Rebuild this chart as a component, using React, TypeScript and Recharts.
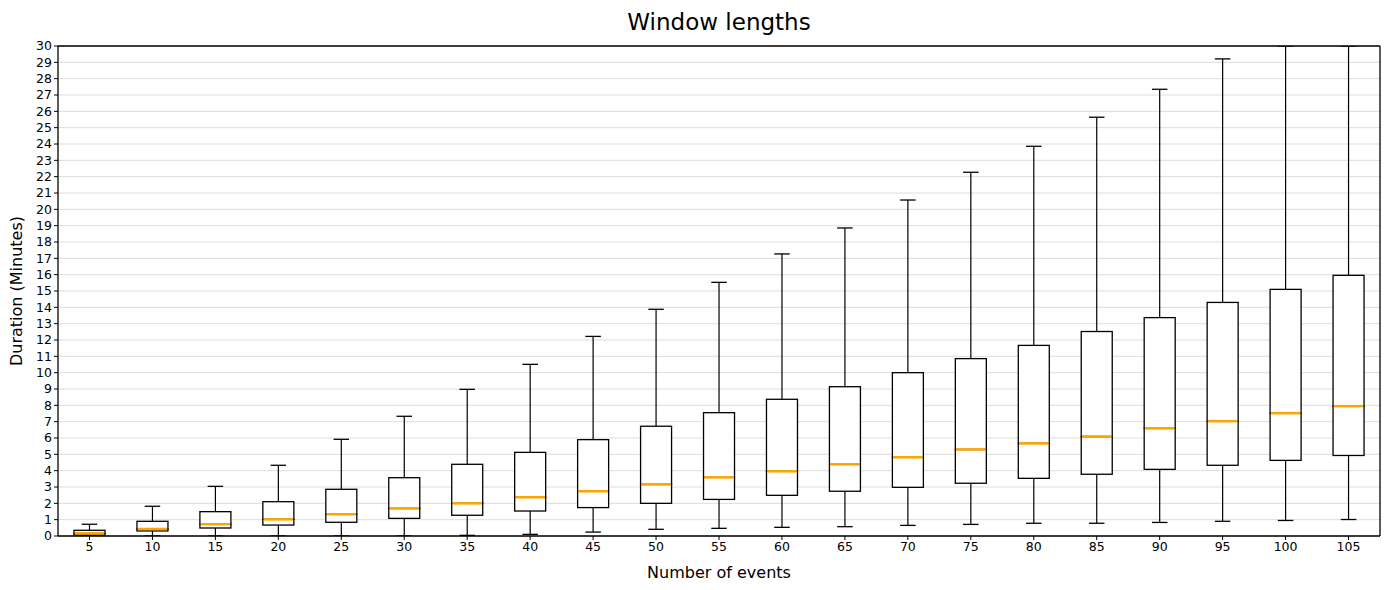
import { ComposedChart, Bar, XAxis, YAxis, CartesianGrid, Label, ReferenceLine } from 'recharts';

// box plot statistics (minutes)
const categories = ['5', '10', '15', '20', '25', '30', '35', '40', '45', '50', '55', '60', '65', '70', '75', '80', '85', '90', '95', '100', '105'];
const whiskerLow = [0, 0, 0, 0, 0, 0, 0.04, 0.1, 0.24, 0.41, 0.47, 0.53, 0.57, 0.65, 0.71, 0.78, 0.78, 0.83, 0.9, 0.95, 1.01];
const quartile1 = [0.06, 0.31, 0.49, 0.67, 0.84, 1.08, 1.27, 1.53, 1.74, 2.0, 2.24, 2.49, 2.74, 2.98, 3.23, 3.53, 3.78, 4.08, 4.33, 4.63, 4.93];
const medians = [0.16, 0.43, 0.72, 1.02, 1.33, 1.69, 2.0, 2.37, 2.74, 3.16, 3.59, 3.96, 4.39, 4.82, 5.3, 5.67, 6.09, 6.59, 7.03, 7.52, 7.95];
const quartile3 = [0.35, 0.9, 1.49, 2.1, 2.86, 3.57, 4.39, 5.12, 5.9, 6.72, 7.55, 8.37, 9.14, 10.0, 10.86, 11.67, 12.52, 13.37, 14.3, 15.1, 15.96];
const whiskerHigh = [0.72, 1.82, 3.04, 4.33, 5.92, 7.33, 8.98, 10.51, 12.22, 13.88, 15.53, 17.27, 18.86, 20.57, 22.27, 23.86, 25.64, 27.35, 29.21, 31.0, 32.8];
const yTicks = Array.from({ length: 31 }, (_, i) => i);

// stacked segments: invisible base, lower whisker, lower half box, upper half box, upper whisker
const data = categories.map((n, i) => ({
  n,
  base: whiskerLow[i],
  lowW: quartile1[i] - whiskerLow[i],
  lowBox: medians[i] - quartile1[i],
  highBox: quartile3[i] - medians[i],
  highW: whiskerHigh[i] - quartile3[i],
}));

const FONT = 'DejaVu Sans, sans-serif';

const LowWhisker = (p: any) => {
  const cx = p.x + p.width / 2;
  const capW = p.width / 4;
  return (
    <g>
      <line x1={cx} x2={cx} y1={p.y} y2={p.y + p.height} stroke="#000" strokeWidth={1.2} />
      <line x1={cx - capW} x2={cx + capW} y1={p.y + p.height} y2={p.y + p.height} stroke="#000" strokeWidth={1.3} />
    </g>
  );
};

const HighWhisker = (p: any) => {
  const cx = p.x + p.width / 2;
  const capW = p.width / 4;
  return (
    <g>
      <line x1={cx} x2={cx} y1={p.y} y2={p.y + p.height} stroke="#000" strokeWidth={1.2} />
      <line x1={cx - capW} x2={cx + capW} y1={p.y} y2={p.y} stroke="#000" strokeWidth={1.3} />
    </g>
  );
};

const LowBox = (p: any) => (
  <rect x={p.x} y={p.y} width={p.width} height={p.height} fill="#fff" stroke="#000" strokeWidth={1.3} />
);

const HighBox = (p: any) => (
  <g>
    <rect x={p.x} y={p.y} width={p.width} height={p.height} fill="#fff" stroke="#000" strokeWidth={1.3} />
    <line x1={p.x + 0.7} x2={p.x + p.width - 0.7} y1={p.y + p.height} y2={p.y + p.height} stroke="#ffa500" strokeWidth={2.5} />
  </g>
);

const axisLine = { stroke: '#000', strokeWidth: 1.3 };

export default function App() {
  return (
    <div style={{ position: 'relative', width: 1373, height: 574, fontFamily: FONT }}>
      <div
        style={{
          position: 'absolute',
          top: 0,
          left: 50,
          width: 1322,
          textAlign: 'center',
          fontSize: 23,
          lineHeight: '28px',
          color: '#000',
        }}
      >
        Window lengths
      </div>
      <ComposedChart
        width={1373}
        height={574}
        data={data}
        margin={{ top: 38, right: 0, bottom: 0, left: 0 }}
        barCategoryGap={0}
        barGap={0}
      >
        <CartesianGrid vertical={false} stroke="#dddddd" strokeWidth={1} yAxisId="main" />
        <XAxis
          dataKey="n"
          height={46}
          tickSize={4}
          tickLine={{ stroke: '#000' }}
          axisLine={axisLine}
          tick={{ fill: '#000', fontSize: 12.5, fontFamily: FONT }}
          interval={0}
        >
          <Label value="Number of events" position="insideBottom" offset={4} style={{ fill: '#000', fontSize: 16, fontFamily: FONT }} />
        </XAxis>
        <YAxis
          yAxisId="main"
          width={50}
          domain={[0, 30]}
          ticks={yTicks}
          interval={0}
          allowDataOverflow
          tickSize={4}
          tickLine={{ stroke: '#000' }}
          axisLine={axisLine}
          tick={{ fill: '#000', fontSize: 12.5, fontFamily: FONT }}
        >
          <Label
            value="Duration (Minutes)"
            angle={-90}
            position="insideLeft"
            offset={0}
            dx={8}
            style={{ fill: '#000', fontSize: 16, fontFamily: FONT, textAnchor: 'middle' }}
          />
        </YAxis>
        <YAxis yAxisId="right" orientation="right" width={1} domain={[0, 30]} ticks={[]} tick={false} tickLine={false} axisLine={axisLine} />
        <Bar dataKey="base" stackId="box" yAxisId="main" barSize={31} fill="transparent" isAnimationActive={false} />
        <Bar dataKey="lowW" stackId="box" yAxisId="main" barSize={31} shape={LowWhisker} isAnimationActive={false} />
        <Bar dataKey="lowBox" stackId="box" yAxisId="main" barSize={31} shape={LowBox} isAnimationActive={false} />
        <Bar dataKey="highBox" stackId="box" yAxisId="main" barSize={31} shape={HighBox} isAnimationActive={false} />
        <Bar dataKey="highW" stackId="box" yAxisId="main" barSize={31} shape={HighWhisker} isAnimationActive={false} />
        <Bar dataKey="none" yAxisId="right" fill="transparent" isAnimationActive={false} />
        {/* top edge of the frame */}
        <ReferenceLine y={30} yAxisId="main" stroke="#000" strokeWidth={1.3} />
      </ComposedChart>
    </div>
  );
}
